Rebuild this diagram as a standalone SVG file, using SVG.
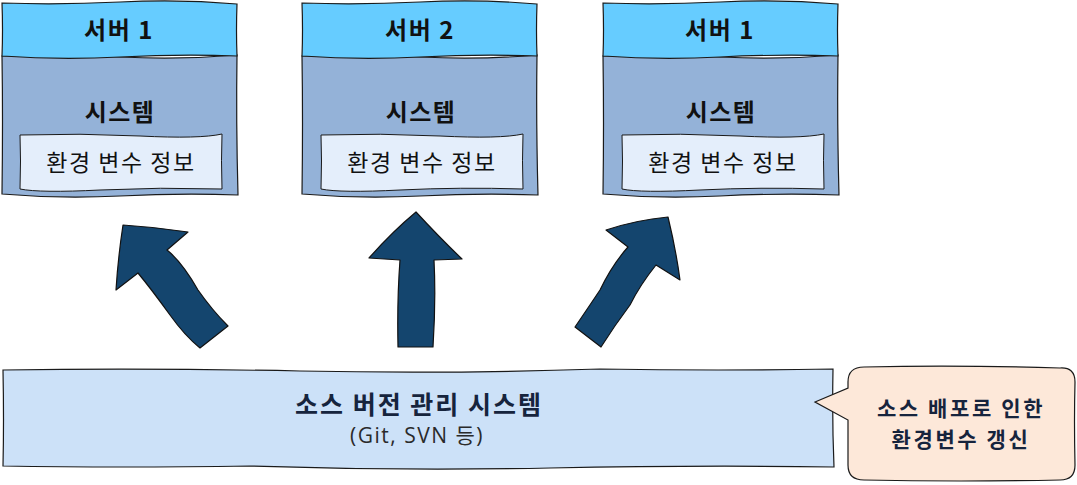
<svg xmlns="http://www.w3.org/2000/svg" width="1077" height="485" viewBox="0 0 1077 485">
<style>
.hdr{fill:#66CCFF;stroke:#1a1a1a;stroke-width:1.2}
.body{fill:#94B2D8;stroke:#1a1a1a;stroke-width:1.2}
.inner{fill:#E4EEFB;stroke:#1a1a1a;stroke-width:1}
.arrow{fill:#14456E;stroke:#111;stroke-width:1.2;stroke-linejoin:round}
.kb{font-family:"Noto Sans CJK KR","Noto Sans",sans-serif;font-weight:bold;font-size:24px;fill:#111;text-anchor:middle;letter-spacing:1.5px}
.kr{font-family:"Noto Sans CJK KR","Noto Sans",sans-serif;font-size:23px;fill:#111;text-anchor:middle;letter-spacing:1.5px}
.nv{font-family:"Noto Sans CJK KR","Noto Sans",sans-serif;font-weight:bold;font-size:25px;fill:#16243d;text-anchor:middle;letter-spacing:2px}
.cl{font-family:"Noto Sans CJK KR","Noto Sans",sans-serif;font-weight:bold;font-size:21px;fill:#16243d;text-anchor:middle;letter-spacing:2.6px}
.sub{font-family:"Open Sans","Noto Sans CJK KR",sans-serif;font-size:21px;fill:#2a2a2a;text-anchor:middle;letter-spacing:1.5px}
</style>
<g id="server1">
<path class="body" d="M2,56 Q60,54 120,57 T237,55 Q236,120 238,195 Q180,193 120,196 T2,194 Q3,120 2,56 Z"/>
<path class="hdr" d="M2,3 Q60,5 120,2 T237,4 Q236,30 237,56 Q180,54 120,57 T2,56 Q3,30 2,3 Z"/>
<path class="inner" d="M20,135 Q80,133 140,136 T222,134 Q221,160 222,189 Q160,187 100,190 T20,189 Q21,160 20,135 Z"/>
<text class="kb" x="119" y="39">서버 1</text>
<text class="kb" x="120" y="121">시스템</text>
<text class="kr" x="121" y="171">환경 변수 정보</text>
</g>
<g id="server2">
<path class="body" d="M302,56 Q360,54 420,57 T537,55 Q536,120 538,195 Q480,193 420,196 T302,194 Q303,120 302,56 Z"/>
<path class="hdr" d="M302,3 Q360,5 420,2 T537,4 Q536,30 537,56 Q480,54 420,57 T302,56 Q303,30 302,3 Z"/>
<path class="inner" d="M321,135 Q380,133 440,136 T523,134 Q522,160 523,189 Q460,187 400,190 T321,189 Q322,160 321,135 Z"/>
<text class="kb" x="420" y="39">서버 2</text>
<text class="kb" x="421" y="121">시스템</text>
<text class="kr" x="422" y="171">환경 변수 정보</text>
</g>
<g id="server3">
<path class="body" d="M603,56 Q660,54 720,57 T838,55 Q837,120 839,195 Q780,193 720,196 T603,194 Q604,120 603,56 Z"/>
<path class="hdr" d="M603,3 Q660,5 720,2 T838,4 Q837,30 838,56 Q780,54 720,57 T603,56 Q604,30 603,3 Z"/>
<path class="inner" d="M622,135 Q680,133 740,136 T824,134 Q823,160 824,189 Q760,187 700,190 T622,189 Q623,160 622,135 Z"/>
<text class="kb" x="720" y="39">서버 1</text>
<text class="kb" x="721" y="121">시스템</text>
<text class="kr" x="723" y="171">환경 변수 정보</text>
</g>
<g id="connectors">
<path class="arrow" d="M123,225 Q155,227 188,232 L167,250 Q182,262 198,290 Q212,310 228,326 L200,348 Q185,336 170,315 Q152,290 138,273 L116,290 Q118,258 123,225 Z"/>
<path class="arrow" d="M416,212 Q440,238 462,259 L434,260 Q436,300 433,347 L398,347 Q397,300 400,260 L369,258 Q392,232 416,212 Z"/>
<path class="arrow" d="M606,230 Q636,220 668,217 Q676,250 680,280 L656,265 Q640,285 630,305 Q615,325 601,347 L575,327 Q590,305 600,290 Q612,265 628,247 Z"/>
</g>
<g id="vcs">
<path d="M3,370 Q150,368 300,371 T600,369 Q720,371 833,369 Q832,420 834,467 Q700,465 550,468 T250,466 Q120,468 3,466 Q4,420 3,370 Z" fill="#CCE1F8" stroke="#1a1a1a" stroke-width="1.2"/>
<text class="nv" x="419" y="414">소스 버전 관리 시스템</text>
<text class="sub" x="417" y="443">(Git, SVN 등)</text>
</g>
<g id="callout">
<path d="M864,367 Q960,365 1060,368 Q1075,367 1075,382 Q1074,420 1075,465 Q1075,480 1060,480 Q960,482 864,480 Q848,480 848,465 V420 L815,402 L848,388 V382 Q848,367 864,367 Z" fill="#FDE8D9" stroke="#1a1a1a" stroke-width="1.2"/>
<text class="cl" x="961" y="416">소스 배포로 인한</text>
<text class="cl" x="961" y="447">환경변수 갱신</text>
</g>
</svg>
